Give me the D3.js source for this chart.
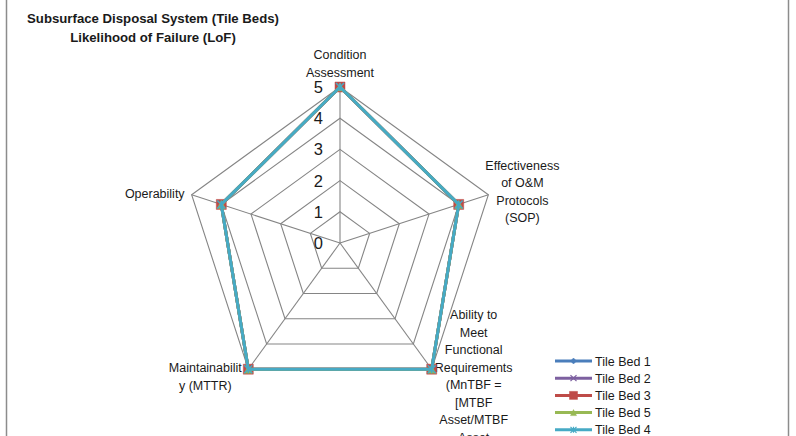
<!DOCTYPE html>
<html>
<head>
<meta charset="utf-8">
<script src="https://cdn.jsdelivr.net/npm/d3@7"></script>
<style>
  html, body { margin: 0; padding: 0; background: #fff; }
  svg { display: block; }
  text { font-family: "Liberation Sans", Arial, sans-serif; fill: #1a1a1a; }
</style>
</head>
<body>
<svg id="chart" width="796" height="436"></svg>
<script>
// Radar axes (clockwise from top), each label split into its drawn lines
const categories = [
  "Condition Assessment",
  "Effectiveness of O&M Protocols (SOP)",
  "Ability to Meet Functional Requirements (MnTBF = [MTBF Asset/MTBF Asset",
  "Maintainability (MTTR)",
  "Operability"
];
const categoryLines = [
  ["Condition", "Assessment"],
  ["Effectiveness", "of O&M", "Protocols", "(SOP)"],
  ["Ability to", "Meet", "Functional", "Requirements", "(MnTBF =", "[MTBF", "Asset/MTBF", "Asset"],
  ["Maintainabilit", "y (MTTR)"],
  ["Operability"]
];
const seriesNames = ["Tile Bed 1", "Tile Bed 2", "Tile Bed 3", "Tile Bed 5", "Tile Bed 4"];
const tileBed1 = [5, 4, 5, 5, 4];
const tileBed2 = [5, 4, 5, 5, 4];
const tileBed3 = [5, 4, 5, 5, 4];
const tileBed5 = [5, 4, 5, 5, 4];
const tileBed4 = [5, 4, 5, 5, 4];
const seriesValues = [tileBed1, tileBed2, tileBed3, tileBed5, tileBed4];
const tickValues = [0, 1, 2, 3, 4, 5];
const titleLines = ["Subsurface Disposal System (Tile Beds)", "Likelihood of Failure (LoF)"];

const colors = ["#4a7ebb", "#7d60a0", "#be4b48", "#98b954", "#46aac5"];
const markers = ["diamond", "cross", "square", "triangle", "star"];

const svg = d3.select("#chart");
const W = 796, H = 436;

// Chart frame
svg.append("rect")
  .attr("x", 6.5).attr("y", -1).attr("width", 782).attr("height", H + 4)
  .attr("fill", "none").attr("stroke", "#8c8c8c").attr("stroke-width", 1.5);

// Title
svg.append("g").selectAll("text").data(titleLines).join("text")
  .attr("x", 153).attr("y", (d, i) => 23 + i * 19)
  .attr("text-anchor", "middle")
  .attr("font-size", 13.2).attr("font-weight", "bold")
  .text(d => d);

const cx = 340, cy = 243;
const r = d3.scaleLinear().domain([0, 5]).range([0, 156]);
const n = categories.length;
const angle = d3.scaleLinear().domain([0, n]).range([0, 2 * Math.PI]);
const pt = (i, v) => [cx + r(v) * Math.sin(angle(i)), cy - r(v) * Math.cos(angle(i))];

const grid = svg.append("g").attr("fill", "none").attr("stroke", "#858585").attr("stroke-width", 1.1);
// Spokes
d3.range(n).forEach(i => {
  const [x, y] = pt(i, 5);
  grid.append("line").attr("x1", cx).attr("y1", cy).attr("x2", x).attr("y2", y);
});
// Rings
tickValues.filter(t => t > 0).forEach(t => {
  grid.append("path")
    .attr("d", d3.line()(d3.range(n).map(i => pt(i, t))) + "Z");
});

// Radial tick labels
svg.append("g").selectAll("text").data(tickValues).join("text")
  .attr("x", cx - 17).attr("y", t => cy - r(t) + 6)
  .attr("text-anchor", "end")
  .attr("font-size", 16.5)
  .text(d => d);

// Axis labels, offset from each spoke's outer end
const labelLayout = [
  { dx: 0, dy: -28, anchor: "middle" },
  { dx: 34, dy: -25, anchor: "middle" },
  { dx: 42, dy: -50, anchor: "middle" },
  { dx: -43, dy: 3, anchor: "middle" },
  { dx: -7, dy: 3, anchor: "end" }
];
const lineH = 17.5;
const labels = svg.append("g").attr("font-size", 12.5);
categoryLines.forEach((lines, i) => {
  const [x, y] = pt(i, 5);
  const L = labelLayout[i];
  labels.append("g").selectAll("text").data(lines).join("text")
    .attr("x", x + L.dx)
    .attr("y", (d, k) => y + L.dy + k * lineH)
    .attr("text-anchor", L.anchor)
    .text(d => d);
});

// Marker shapes
function markerPath(type, size) {
  const s = size / 2;
  switch (type) {
    case "diamond": return `M0,${-s}L${s},0L0,${s}L${-s},0Z`;
    case "cross": return `M${-s},${-s}L${s},${s}M${-s},${s}L${s},${-s}`;
    case "square": return `M${-s},${-s}H${s}V${s}H${-s}Z`;
    case "triangle": return `M0,${-s}L${s},${s}H${-s}Z`;
    case "star": return `M${-s},${-s}L${s},${s}M${-s},${s}L${s},${-s}M0,${-s}V${s}`;
  }
}
const filled = t => t === "diamond" || t === "square" || t === "triangle";
const markerSize = { diamond: 7, cross: 7, square: 10, triangle: 8, star: 8 };

// Series
const seriesG = svg.append("g");
seriesValues.forEach((vals, s) => {
  const pts = vals.map((v, i) => pt(i, v));
  seriesG.append("path")
    .attr("d", d3.line()(pts) + "Z")
    .attr("fill", "none")
    .attr("stroke", colors[s]).attr("stroke-width", 3)
    .attr("stroke-linejoin", "round");
  seriesG.append("g").selectAll("path").data(pts).join("path")
    .attr("transform", d => `translate(${d[0]},${d[1]})`)
    .attr("d", markerPath(markers[s], markerSize[markers[s]]))
    .attr("fill", filled(markers[s]) ? colors[s] : "none")
    .attr("stroke", colors[s]).attr("stroke-width", filled(markers[s]) ? 0.5 : 1.5);
});

// Legend
const legend = svg.append("g").attr("transform", "translate(555,361)");
seriesNames.forEach((name, s) => {
  const g = legend.append("g").attr("transform", `translate(0,${s * 17.2})`);
  g.append("line").attr("x1", 0).attr("x2", 37).attr("y1", 0).attr("y2", 0)
    .attr("stroke", colors[s]).attr("stroke-width", 3);
  const ms = markers[s] === "square" ? 8 : 6;
  g.append("path").attr("transform", "translate(18.5,0)")
    .attr("d", markerPath(markers[s], ms))
    .attr("fill", filled(markers[s]) ? colors[s] : "none")
    .attr("stroke", colors[s]).attr("stroke-width", filled(markers[s]) ? 0.5 : 1.2);
  g.append("text").attr("x", 40).attr("y", 4.5)
    .attr("font-size", 12.5).text(name);
});
</script>
</body>
</html>
